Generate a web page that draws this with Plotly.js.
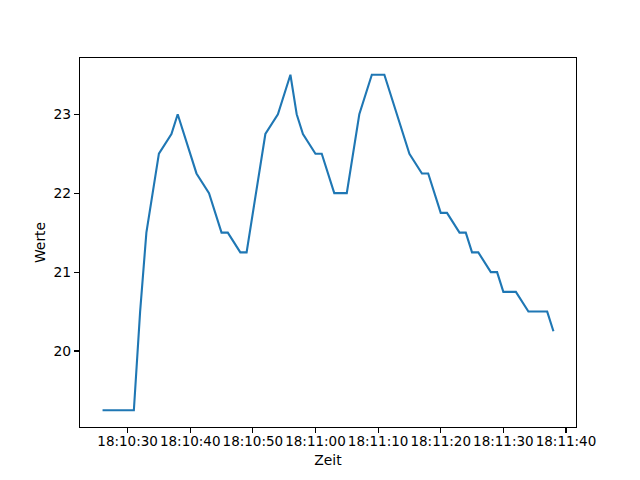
<!DOCTYPE html>
<html>
<head>
<meta charset="utf-8">
<script src="https://cdn.plot.ly/plotly-3.0.1.min.js"></script>
<style>
  body { margin: 0; background: #fff; }
  #chart { width: 640px; height: 480px; }
</style>
</head>
<body>
<div id="chart"></div>
<script>
// Messzeitpunkte (alle am selben Tag) und Messwerte
const tag = "2024-01-01";
const zeiten = ["18:10:26", "18:10:31", "18:10:32", "18:10:33", "18:10:35", "18:10:37", "18:10:38",
    "18:10:41", "18:10:43", "18:10:45", "18:10:46", "18:10:48", "18:10:49",
    "18:10:52", "18:10:54", "18:10:56", "18:10:57", "18:10:58",
    "18:11:00", "18:11:01", "18:11:03", "18:11:05", "18:11:07", "18:11:09", "18:11:11",
    "18:11:15", "18:11:17", "18:11:18", "18:11:20", "18:11:21", "18:11:23", "18:11:24", "18:11:25", "18:11:26",
    "18:11:28", "18:11:29", "18:11:30", "18:11:32", "18:11:34", "18:11:37", "18:11:38"];
const werte = [19.25, 19.25, 20.5, 21.5, 22.5, 22.75, 23.0,
    22.25, 22.0, 21.5, 21.5, 21.25, 21.25,
    22.75, 23.0, 23.5, 23.0, 22.75,
    22.5, 22.5, 22.0, 22.0, 23.0, 23.5, 23.5,
    22.5, 22.25, 22.25, 21.75, 21.75, 21.5, 21.5, 21.25, 21.25,
    21.0, 21.0, 20.75, 20.75, 20.5, 20.5, 20.25];
const yTicks = [20, 21, 22, 23];

const x = zeiten.map(z => tag + " " + z);

const trace = {
    x: x,
    y: werte,
    type: 'scatter',
    mode: 'lines',
    line: { color: '#1f77b4', width: 2.1 },
    hoverinfo: 'skip'
};

const axisStyle = {
    showgrid: false,
    zeroline: false,
    showline: true,
    linecolor: '#000',
    linewidth: 1.1,
    mirror: true,
    ticks: 'outside',
    ticklen: 5,
    tickwidth: 1.1,
    tickcolor: '#000',
    tickfont: { family: 'DejaVu Sans', size: 13.9, color: '#000' }
};

const layout = {
    width: 640,
    height: 480,
    margin: { l: 80, r: 64, t: 58, b: 53 },
    paper_bgcolor: '#fff',
    plot_bgcolor: '#fff',
    showlegend: false,
    font: { family: 'DejaVu Sans', size: 13.9, color: '#000' },
    xaxis: Object.assign({}, axisStyle, {
        type: 'date',
        range: [tag + " 18:10:22.4", tag + " 18:11:41.6"],
        tick0: tag + " 18:10:30",
        dtick: 10000,
        tickformat: '%H:%M:%S',
        tickangle: 0,
        tickfont: { family: 'DejaVu Sans', size: 13.5, color: '#000' },
        ticklabelstandoff: -3,
        title: { text: 'Zeit', font: { family: 'DejaVu Sans', size: 13.9 }, standoff: 7 }
    }),
    yaxis: Object.assign({}, axisStyle, {
        range: [19.0375, 23.7125],
        tickvals: yTicks,
        ticktext: yTicks.map(String),
        title: { text: 'Werte', font: { family: 'DejaVu Sans', size: 13.9 }, standoff: 4 }
    })
};

Plotly.newPlot('chart', [trace], layout, { staticPlot: true, displayModeBar: false });
</script>
</body>
</html>
